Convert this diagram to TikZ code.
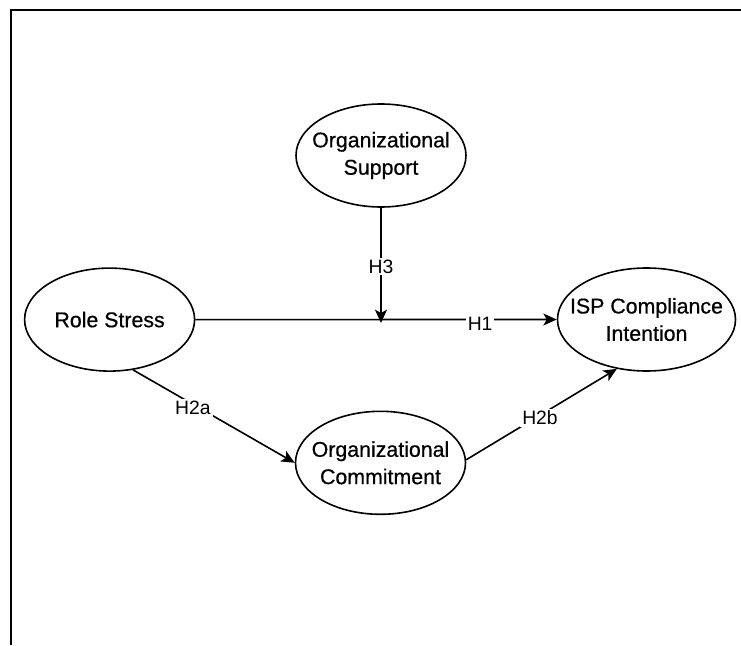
\documentclass[tikz,border=0pt]{standalone}
\usepackage{fontspec}
\setmainfont{Liberation Sans}
\newfontfamily\nodefont[FakeBold=0.6]{Liberation Sans}
\usetikzlibrary{shapes.geometric,arrows.meta}
\begin{document}
\begin{tikzpicture}[x=0.75pt,y=-0.75pt,
  ell/.style={draw, ellipse, line width=1.2pt, minimum width=127.5pt, minimum height=77.25pt, inner sep=0pt},
  txt/.style={font=\nodefont\fontsize{16}{20.5}\selectfont, align=center, inner sep=0pt},
  lbl/.style={font=\fontsize{14.5}{16}\selectfont, fill=white, inner sep=1.5pt},
  conn/.style={line width=1.2pt, -{Stealth[length=10pt,width=9pt,inset=2.5pt]}},
]
\useasboundingbox (0,0) rectangle (741,645);
\draw[line width=1.5pt] (741,10) -- (11,10) -- (11,645);
\node[ell] (os) at (381,155.5) {};
\node[ell] (rs) at (109.6,319.6) {};
\node[ell, minimum width=133.5pt] (isp) at (646.5,319.5) {};
\node[ell] (oc) at (380.5,462.8) {};
\node[txt] (ost) at (os) {Organizational\\Support};
\node[txt] (rst) at (rs) {Role Stress};
\node[txt] (ispt) at (isp) {ISP Compliance\\Intention};
\node[txt] (oct) at (oc) {Organizational\\Commitment};
\coordinate (m) at (381,323);
\draw[conn] (rs.east) -- (isp.west) node[lbl, pos=0.788, yshift=-3pt] (h1) {H1};
\draw[conn] (os.south) -- (m) node[lbl, pos=0.51] (h3) {H3};
\draw[conn] (rs.-65.5) -- (oc.west) node[lbl, pos=0.37, yshift=-3pt] (h2a) {H2a};
\draw[conn] (oc.2) -- (isp.-121) node[lbl, pos=0.49, yshift=-2pt] (h2b) {H2b};
\end{tikzpicture}
\end{document}
